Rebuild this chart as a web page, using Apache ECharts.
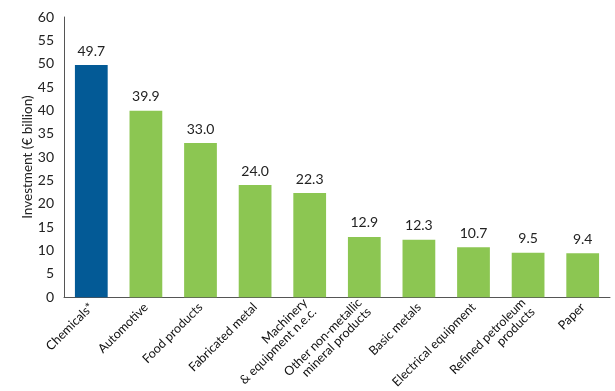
<!DOCTYPE html>
<html><head><meta charset="utf-8">
<script src="https://cdn.jsdelivr.net/npm/echarts@6/dist/echarts.min.js"></script>
<style>html,body{margin:0;padding:0;background:#fff}#c{width:615px;height:391px}</style>
</head><body><div id="c"></div>
<script>
const categories = ["Chemicals*", "Automotive", "Food products", "Fabricated metal", "Machinery\n& equipment n.e.c.", "Other non-metallic\nmineral products", "Basic metals", "Electrical equipment", "Refined petroleum\nproducts", "Paper"];
const values = [49.7, 39.9, 33.0, 24.0, 22.3, 12.9, 12.3, 10.7, 9.5, 9.4];
const yTicks = {min: 0, max: 60, interval: 5};
const blue = "#035a96", green = "#8cc652";
const chart = echarts.init(document.getElementById('c'));
chart.setOption({
  animation: false,
  textStyle: {fontFamily: "Lato"},
  grid: {left: 64, right: 5, top: 17, bottom: 93, containLabel: false},
  xAxis: {
    type: 'category', data: categories,
    axisLine: {lineStyle: {color: '#555', width: 1}},
    axisTick: {show: false},
    axisLabel: {rotate: 45, interval: 0, color: '#111', fontSize: 12.5, fontFamily: 'Lato', margin: 8, lineHeight: 13}
  },
  yAxis: {
    type: 'value', min: yTicks.min, max: yTicks.max, interval: yTicks.interval,
    name: 'Investment (€ billion)', nameLocation: 'middle', nameGap: 29, nameMoveOverlap: false,
    nameTextStyle: {color: '#222', fontSize: 13.5, fontFamily: 'Lato'},
    axisLine: {show: true, lineStyle: {color: '#555', width: 1}},
    axisTick: {show: false},
    splitLine: {show: false},
    axisLabel: {color: '#222', fontSize: 14, fontFamily: 'Lato', margin: 10}
  },
  series: [{
    type: 'bar', barWidth: '60%',
    data: values.map((v, i) => ({value: v, itemStyle: {color: i === 0 ? blue : green}})),
    label: {show: true, position: 'top', distance: 7, color: '#222', fontSize: 14, fontFamily: 'Lato', formatter: p => p.value.toFixed(1)}
  }]
});
</script></body></html>
